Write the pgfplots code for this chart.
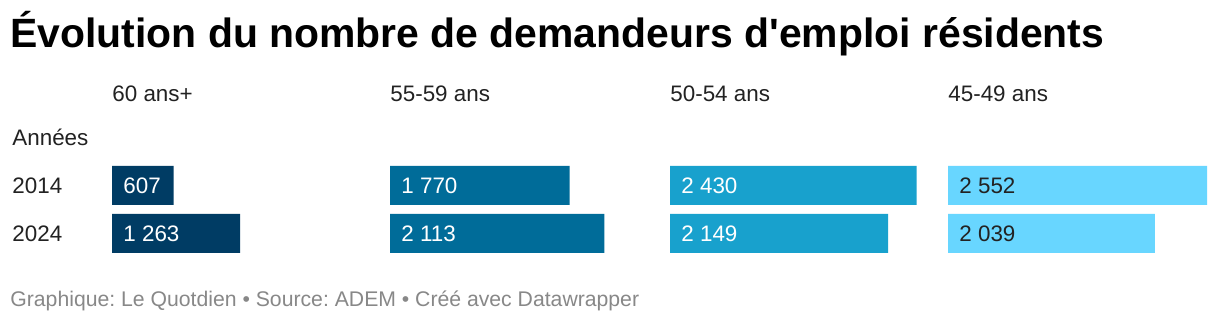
\documentclass[border=0pt]{standalone}
\usepackage{pgfplots}
\pgfplotsset{compat=1.18}
\usepackage{fontspec}
\setmainfont{Liberation Sans}
\frenchspacing
\definecolor{cA}{HTML}{003C64}
\definecolor{cB}{HTML}{006C99}
\definecolor{cC}{HTML}{18A1CD}
\definecolor{cD}{HTML}{68D6FF}
\definecolor{txt}{HTML}{222222}
\definecolor{foot}{HTML}{888888}
\newcommand{\barfont}{\fontsize{11.2}{13}\selectfont}
\pgfplotsset{
  panel/.style={
    hide axis, scale only axis, clip=false,
    x=0.05075pt, y=24pt,
    xmin=0, xmax=2600, ymin=-0.55, ymax=1.55,
    anchor=south west,
  },
  lbl/.style={draw=none, nodes near coords, point meta=explicit symbolic,
    every node near coord/.append style={anchor=west, xshift=5.5pt, font=\barfont, text=#1, inner sep=0}},
}
\begin{document}
\begin{tikzpicture}[x=0.5pt,y=0.5pt]
\path[use as bounding box, fill=white] (0,0) rectangle (1220,330);
\node[anchor=base west, inner sep=0, text=black, font=\fontsize{20.45}{24}\selectfont\bfseries] at (10,282) {Évolution du nombre de demandeurs d\textquotesingle emploi résidents};
\begin{scope}[font=\barfont, text=txt]
\node[anchor=base west, inner sep=0] at (112,228) {60 ans+};
\node[anchor=base west, inner sep=0] at (390,228) {55-59 ans};
\node[anchor=base west, inner sep=0] at (670,228) {50-54 ans};
\node[anchor=base west, inner sep=0] at (948,228) {45-49 ans};
\node[anchor=base west, inner sep=0] at (12,184) {Années};
\node[anchor=base west, inner sep=0] at (12,136) {2014};
\node[anchor=base west, inner sep=0] at (12,88) {2024};
\end{scope}
\node[anchor=base west, inner sep=0, text=foot, font=\fontsize{10.6}{12}\selectfont] at (10,23) {Graphique: Le Quotdien • Source: ADEM • Créé avec Datawrapper};

\begin{axis}[panel, at={(56pt,35.05pt)}]
\addplot[xbar, bar width=19.5pt, fill=cA, draw=none] coordinates {(607,1) (1263,0)};
\addplot[lbl=white] coordinates {(0,1) [607] (0,0) [1~263]};
\end{axis}
\begin{axis}[panel, at={(195pt,35.05pt)}]
\addplot[xbar, bar width=19.5pt, fill=cB, draw=none] coordinates {(1770,1) (2113,0)};
\addplot[lbl=white] coordinates {(0,1) [1~770] (0,0) [2~113]};
\end{axis}
\begin{axis}[panel, at={(335pt,35.05pt)}]
\addplot[xbar, bar width=19.5pt, fill=cC, draw=none] coordinates {(2430,1) (2149,0)};
\addplot[lbl=white] coordinates {(0,1) [2~430] (0,0) [2~149]};
\end{axis}
\begin{axis}[panel, at={(474pt,35.05pt)}]
\addplot[xbar, bar width=19.5pt, fill=cD, draw=none] coordinates {(2552,1) (2039,0)};
\addplot[lbl=txt] coordinates {(0,1) [2~552] (0,0) [2~039]};
\end{axis}
\end{tikzpicture}
\end{document}
